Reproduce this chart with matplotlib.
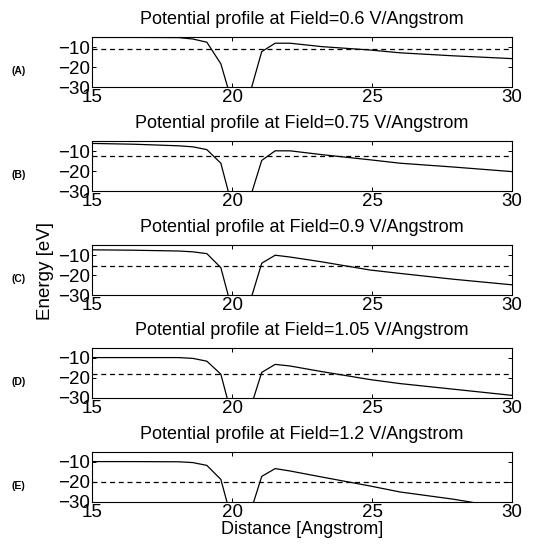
import numpy as np
import matplotlib.pyplot as plt

plt.rcParams['font.family'] = ['Liberation Sans', 'DejaVu Sans']

# sample positions along the gap (Angstrom)
distance = [15.0, 16.5, 18.1, 18.6, 19.1, 19.6, 20.05, 20.5, 21.06, 21.54,
            22.07, 23.2, 24.93, 26.0, 27.9, 30.0]

fields = ['0.6', '0.75', '0.9', '1.05', '1.2']
panel_tags = ['(A)', '(B)', '(C)', '(D)', '(E)']

# potential energy (eV) at each sample point, one list per field
pot_a = [-5.2, -5.2, -5.3, -6.0, -7.6, -18.4, -40, -40, -12.3, -8.1,
         -8.1, -9.8, -11.5, -12.9, -14.4, -15.8]
pot_b = [-6.2, -6.6, -7.4, -7.9, -9.3, -16.1, -40, -40, -14.7, -9.9,
         -9.9, -11.8, -14.4, -16.1, -18.0, -20.3]
pot_c = [-7.4, -7.6, -8.0, -8.4, -9.3, -16.3, -40, -40, -14.1, -10.1,
         -11.0, -13.4, -17.5, -19.2, -22.1, -24.9]
pot_d = [-9.8, -9.8, -9.8, -10.2, -11.6, -18.1, -42, -42, -17.2, -13.2,
         -14.0, -16.8, -20.8, -22.8, -25.6, -28.7]
pot_e = [-9.8, -9.8, -9.9, -10.3, -11.7, -18.7, -42, -42, -17.2, -13.3,
         -14.5, -17.5, -22.0, -25.0, -28.6, -33.5]
potentials = [pot_a, pot_b, pot_c, pot_d, pot_e]

# dashed reference level per field (eV)
levels = [-10.8, -12.7, -15.5, -17.9, -19.8]

fig = plt.figure(figsize=(5.52, 5.50), dpi=100)

bottoms = [0.8418, 0.6527, 0.4636, 0.2764, 0.0873]
height = 0.0909
axes = []
for i in range(5):
    ax = fig.add_axes([0.1667, bottoms[i], 0.761, height])
    ax.plot(distance, potentials[i], color='k', lw=0.9)
    ax.axhline(levels[i], color='k', lw=0.9, ls=(0, (4, 3)))
    ax.set_xlim(15, 30)
    ax.set_ylim(-30, -5)
    ax.set_xticks([15, 20, 25, 30])
    ax.set_yticks([-30, -20, -10])
    ax.tick_params(direction='in', length=3, width=0.7, top=True, right=True,
                   labelsize=13.5, pad=1.5)
    for s in ax.spines.values():
        s.set_linewidth(0.8)
    ax.set_title('Potential profile at Field=%s V/Angstrom' % fields[i],
                 fontsize=13, pad=9.5)
    fig.text(0.034, bottoms[i] + height * 0.32, panel_tags[i],
             fontsize=7.5, fontweight='bold', ha='center', va='center')
    axes.append(ax)

axes[-1].set_xlabel('Distance [Angstrom]', fontsize=13, labelpad=0)
fig.text(0.082, 0.508, 'Energy [eV]', rotation=90, fontsize=13.5,
         ha='center', va='center')

fig.savefig('out.png', dpi=100)
